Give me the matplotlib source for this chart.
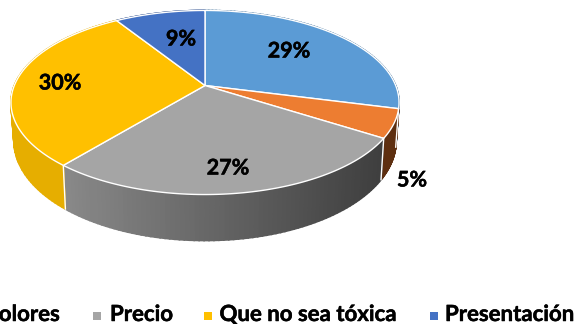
import matplotlib
matplotlib.use('Agg')
import matplotlib.pyplot as plt
import matplotlib.patheffects as pe
from matplotlib.colors import to_rgb
from matplotlib.patches import Polygon, Rectangle
import numpy as np

plt.rcParams['font.family'] = ['Lato', 'DejaVu Sans']

values = [29, 5, 27, 30, 9]
labels = ['29%', '5%', '27%', '30%', '9%']
colors = ['#5B9BD5', '#ED7D31', '#A5A5A5', '#FFC000', '#4472C4']
# side wall colours, left end and right end of the pie
side_left = ['#3f6f9a', '#5e2f10', '#8a8a8a', '#e6ae00', '#2f5191']
side_right = ['#3f6f9a', '#5e2f10', '#3e3e3e', '#cf9c00', '#2f5191']
label_pos = [(289, 51), (412, 180), (228, 168), (60, 83), (181, 39)]

legend_names = ['Precio', 'Que no sea tóxica', 'Presentación']
legend_colors = ['#A5A5A5', '#FFC000', '#4472C4']
legend_box_x = [93, 204, 430]
legend_text_x = [110, 219.5, 445]

# perspective of the pie disc
cx, cy = 205, 85.5
A, B, k = 190.7, 88.9, 0.1847
bold = [pe.withStroke(linewidth=0.35, foreground='black')]


def top_ring(theta):
    u, v = np.sin(theta), np.cos(theta)
    w = 1 + k * v
    return cx + A * u / w, cy - B * v / w


def bottom_ring(theta):
    x, y = top_ring(theta)
    return cx + (x - cx) * 0.985, y + 36 - 10 * np.cos(theta)


fig = plt.figure(figsize=(5.76, 3.24), dpi=100)
ax = fig.add_axes([0, 0, 1, 1])
ax.set_xlim(0, 576)
ax.set_ylim(324, 0)
ax.axis('off')

edges = np.radians(np.cumsum([0] + values) * 3.6)

# side walls, one thin strip at a time so the shading can change along x
for i in range(len(values)):
    th = np.linspace(edges[i], edges[i + 1], 80)
    c0, c1 = np.array(to_rgb(side_left[i])), np.array(to_rgb(side_right[i]))
    for a, b in zip(th[:-1], th[1:]):
        xa, ya = top_ring(a)
        xb, yb = top_ring(b)
        xc, yc = bottom_ring(b)
        xd, yd = bottom_ring(a)
        f = np.clip((xa - 60) / 325, 0, 1)
        col = c0 + (c1 - c0) * f
        ax.add_patch(Polygon([(xa, ya), (xb, yb), (xc, yc), (xd, yd)],
                             fc=col, ec=col, lw=1.2, zorder=2))

# white seams on the front of the wall
for e in edges[1:4]:
    if np.cos(e) < 0:
        xa, ya = top_ring(e)
        xb, yb = bottom_ring(e)
        ax.plot([xa, xb], [ya, yb], color='white', lw=1, zorder=3)

# top faces
for i in range(len(values)):
    th = np.linspace(edges[i], edges[i + 1], 120)
    x, y = top_ring(th)
    pts = [(cx, cy)] + list(zip(x, y))
    ax.add_patch(Polygon(pts, closed=True, fc=colors[i], ec='white', lw=1, zorder=4))

for t, (x, y) in zip(labels, label_pos):
    ax.text(x, y, t, fontsize=15.5, fontweight='bold', color='black',
            ha='center', va='center', zorder=5, path_effects=bold)

# legend, first entries run off the left edge
ax.text(60, 314.5, 'Colores', fontsize=16, fontweight='bold', ha='right', va='center',
        path_effects=bold)
for name, col, bx, tx in zip(legend_names, legend_colors, legend_box_x, legend_text_x):
    ax.add_patch(Rectangle((bx, 312), 8, 8, fc=col, ec='none'))
    ax.text(tx, 314.5, name, fontsize=16, fontweight='bold', ha='left', va='center',
            path_effects=bold)

fig.savefig('out.png', dpi=100)
